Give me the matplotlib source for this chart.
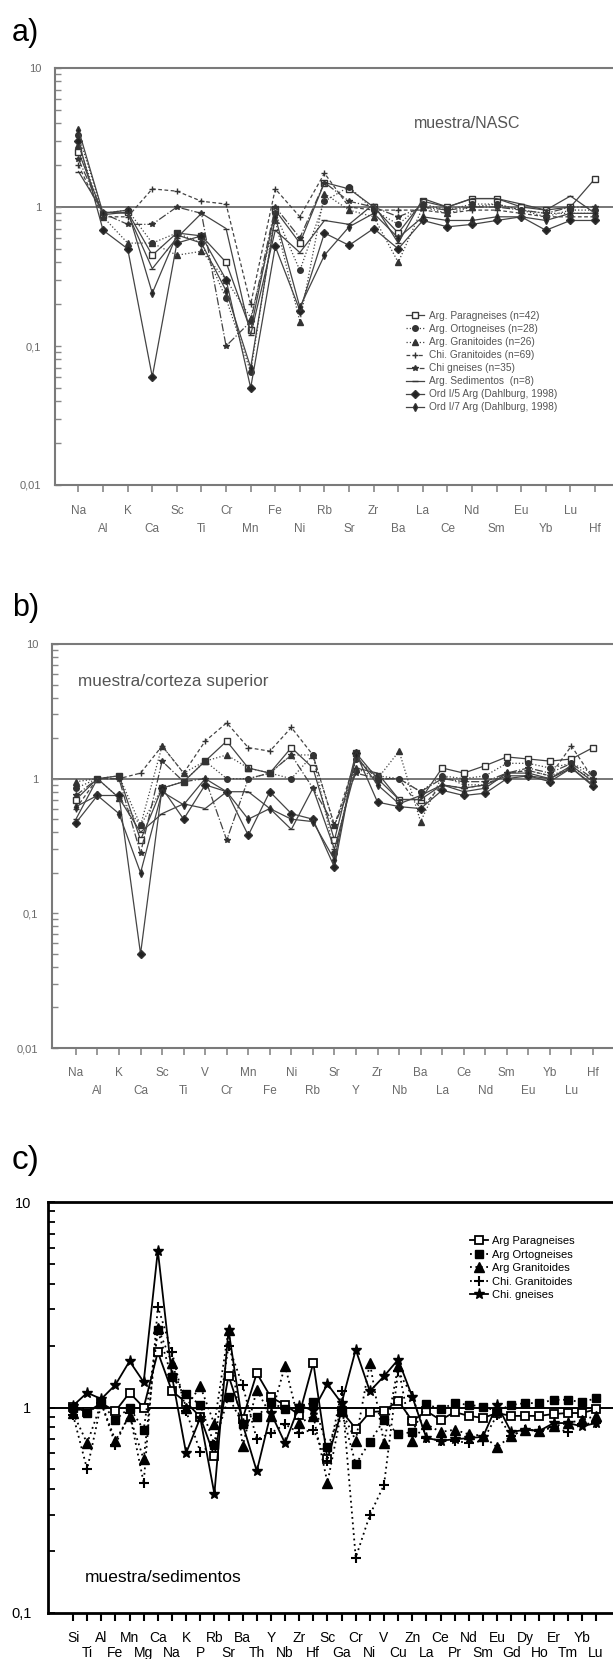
import matplotlib
matplotlib.use('Agg')
import matplotlib.pyplot as plt
from matplotlib.ticker import FixedLocator, FixedFormatter, LogLocator, NullFormatter

plt.rcParams['font.family'] = ['Liberation Sans', 'DejaVu Sans']

# ---------------- data ----------------
# panel a : muestra/NASC
elements_a = ['Na', 'Al', 'K', 'Ca', 'Sc', 'Ti', 'Cr', 'Mn', 'Fe', 'Ni', 'Rb',
              'Sr', 'Zr', 'Ba', 'La', 'Ce', 'Nd', 'Sm', 'Eu', 'Yb', 'Lu', 'Hf']
a_parag = [2.5, 0.88, 0.92, 0.45, 0.65, 0.62, 0.40, 0.13, 0.95, 0.55, 1.50, 1.35, 1.00, 0.65, 1.10, 1.00, 1.15, 1.15, 1.00, 0.95, 1.00, 1.60]
a_orto = [3.3, 0.90, 0.95, 0.55, 0.65, 0.55, 0.22, 0.065, 0.90, 0.35, 1.10, 1.40, 0.95, 0.75, 1.05, 0.95, 1.05, 1.05, 0.95, 0.85, 0.95, 0.95]
a_granit = [2.8, 0.85, 0.55, 0.55, 0.45, 0.48, 0.30, 0.16, 0.80, 0.15, 1.25, 0.95, 0.85, 0.40, 1.00, 0.90, 1.00, 1.05, 0.95, 0.90, 0.90, 0.90]
a_chigran = [2.0, 0.85, 0.85, 1.35, 1.30, 1.10, 1.05, 0.20, 1.35, 0.85, 1.75, 1.00, 0.95, 0.95, 0.95, 0.90, 0.95, 0.95, 0.90, 0.85, 0.85, 0.85]
a_chigneis = [2.2, 0.90, 0.75, 0.75, 1.00, 0.90, 0.10, 0.15, 1.00, 0.60, 1.50, 1.10, 1.00, 0.85, 1.00, 0.95, 1.00, 1.00, 0.95, 0.90, 1.00, 1.00]
a_sedim = [1.8, 0.92, 0.90, 0.36, 0.60, 0.90, 0.70, 0.12, 0.68, 0.47, 0.80, 0.75, 1.05, 0.55, 1.15, 1.00, 1.15, 1.15, 1.05, 0.95, 1.20, 0.90]
a_ord5 = [3.0, 0.68, 0.50, 0.06, 0.55, 0.62, 0.30, 0.05, 0.52, 0.18, 0.65, 0.53, 0.70, 0.50, 0.80, 0.72, 0.75, 0.80, 0.85, 0.68, 0.80, 0.80]
a_ord7 = [3.6, 0.90, 0.95, 0.24, 0.63, 0.55, 0.25, 0.07, 0.85, 0.19, 0.45, 0.72, 0.90, 0.60, 0.85, 0.80, 0.80, 0.85, 0.85, 0.80, 0.90, 0.90]

# panel b : muestra/corteza superior
elements_b = ['Na', 'Al', 'K', 'Ca', 'Sc', 'Ti', 'V', 'Cr', 'Mn', 'Fe', 'Ni', 'Rb', 'Sr',
              'Y', 'Zr', 'Nb', 'Ba', 'La', 'Ce', 'Nd', 'Sm', 'Eu', 'Yb', 'Lu', 'Hf']
b_parag = [0.70, 1.00, 1.05, 0.35, 0.85, 0.95, 1.35, 1.90, 1.20, 1.10, 1.70, 1.20, 0.35, 1.55, 1.00, 0.70, 0.70, 1.20, 1.10, 1.25, 1.45, 1.40, 1.35, 1.40, 1.70]
b_orto = [0.85, 1.00, 1.05, 0.45, 0.85, 0.95, 1.35, 1.00, 1.00, 1.10, 1.00, 1.50, 0.28, 1.40, 1.05, 1.00, 0.80, 1.05, 1.00, 1.05, 1.30, 1.30, 1.20, 1.30, 1.10]
b_granit = [0.95, 1.00, 0.72, 0.45, 1.75, 1.10, 1.35, 1.50, 1.20, 1.10, 1.50, 1.50, 0.45, 1.20, 1.00, 1.60, 0.48, 1.05, 0.90, 0.90, 1.10, 1.15, 1.05, 1.20, 1.00]
b_chigran = [0.60, 1.00, 1.00, 1.10, 1.75, 1.10, 1.90, 2.60, 1.70, 1.60, 2.40, 1.50, 0.45, 1.40, 1.00, 1.00, 0.60, 0.90, 0.85, 0.90, 1.10, 1.15, 1.05, 1.75, 1.00]
b_chigneis = [0.75, 1.00, 1.00, 0.28, 1.35, 0.95, 1.00, 0.35, 1.00, 1.10, 1.50, 0.85, 0.45, 1.10, 1.00, 1.00, 0.80, 1.00, 0.95, 0.95, 1.10, 1.20, 1.10, 1.30, 1.00]
b_sedim = [0.50, 1.00, 0.72, 0.40, 0.55, 0.65, 0.60, 0.80, 0.80, 0.60, 0.42, 0.85, 0.30, 1.20, 1.10, 0.70, 0.70, 0.90, 0.85, 0.90, 1.05, 1.05, 1.00, 1.20, 0.90]
b_ord5 = [0.47, 0.75, 0.75, 0.05, 0.85, 0.50, 0.90, 0.80, 0.38, 0.80, 0.55, 0.50, 0.22, 1.55, 0.67, 0.62, 0.60, 0.82, 0.75, 0.78, 1.00, 1.05, 0.95, 1.20, 0.88]
b_ord7 = [0.62, 0.75, 0.55, 0.20, 0.80, 0.64, 1.00, 0.80, 0.50, 0.60, 0.50, 0.48, 0.25, 1.50, 0.90, 0.65, 0.75, 0.90, 0.80, 0.85, 1.10, 1.10, 1.00, 1.25, 0.95]

labels_ab = ['Arg. Paragneises (n=42)', 'Arg. Ortogneises (n=28)', 'Arg. Granitoides (n=26)',
             'Chi. Granitoides (n=69)', 'Chi gneises (n=35)', 'Arg. Sedimentos  (n=8)',
             'Ord I/5 Arg (Dahlburg, 1998)', 'Ord I/7 Arg (Dahlburg, 1998)']

# panel c : muestra/sedimentos
elements_c = ['Si', 'Ti', 'Al', 'Fe', 'Mn', 'Mg', 'Ca', 'Na', 'K', 'P', 'Rb', 'Sr', 'Ba',
              'Th', 'Y', 'Nb', 'Zr', 'Hf', 'Sc', 'Ga', 'Cr', 'Ni', 'V', 'Cu', 'Zn', 'La',
              'Ce', 'Pr', 'Nd', 'Sm', 'Eu', 'Gd', 'Dy', 'Ho', 'Er', 'Tm', 'Yb', 'Lu']
c_parag = [1.01, 0.95, 1.05, 0.96, 1.18, 1.00, 1.86, 1.20, 1.06, 0.90, 0.58, 1.43, 0.88, 1.47, 1.12, 1.03, 0.92, 1.65, 0.56,
           0.96, 0.79, 0.95, 0.96, 1.08, 0.86, 0.96, 0.87, 0.95, 0.91, 0.89, 0.94, 0.91, 0.91, 0.91, 0.93, 0.94, 0.94, 0.98]
c_orto = [1.00, 0.94, 1.05, 0.87, 1.00, 0.78, 2.37, 1.40, 1.16, 1.03, 0.66, 1.13, 0.83, 0.90, 1.06, 0.98, 1.00, 1.06, 0.64,
          0.96, 0.53, 0.68, 0.87, 0.74, 0.76, 1.04, 0.98, 1.05, 1.03, 1.01, 0.96, 1.03, 1.05, 1.05, 1.09, 1.09, 1.06, 1.11]
c_granit = [0.94, 0.67, 1.05, 0.69, 0.91, 0.56, 2.44, 1.65, 1.00, 1.27, 0.83, 2.37, 0.65, 1.22, 0.91, 1.60, 0.84, 0.91, 0.43,
            0.96, 0.69, 1.65, 0.67, 1.59, 0.69, 0.83, 0.76, 0.78, 0.74, 0.73, 0.64, 0.73, 0.78, 0.77, 0.81, 0.84, 0.87, 0.91]
c_chigran = [0.92, 0.50, 1.05, 0.66, 0.94, 0.43, 3.10, 1.86, 0.96, 0.61, 0.66, 2.00, 1.28, 0.70, 0.75, 0.83, 0.75, 0.78, 0.55,
             1.20, 0.186, 0.30, 0.42, 1.50, 1.14, 0.71, 0.69, 0.69, 0.67, 0.69, 0.92, 0.73, 0.78, 0.77, 0.80, 0.76, 0.83, 0.84]
c_chigneis = [1.02, 1.18, 1.10, 1.29, 1.68, 1.33, 5.80, 1.42, 0.60, 0.89, 0.38, 2.39, 0.83, 0.49, 0.94, 0.67, 1.02, 0.97, 1.30,
              1.05, 1.91, 1.20, 1.42, 1.71, 1.13, 0.71, 0.69, 0.70, 0.71, 0.72, 1.03, 0.76, 0.78, 0.77, 0.84, 0.84, 0.81, 0.84]
labels_c = ['Arg Paragneises', 'Arg Ortogneises', 'Arg Granitoides', 'Chi. Granitoides', 'Chi. gneises']

# ---------------- figure ----------------
W, H = 613, 1659
fig = plt.figure(figsize=(W / 100, H / 100), dpi=100)


def ax_at(left, top, bottom, right=W):
    return fig.add_axes([left / W, 1 - bottom / H, (right - left) / W, (bottom - top) / H])


def two_row_ticks(ax, names, fontsize, color, pad_top, pad_bot, length, width, tcolor):
    # even elements on the upper row (major ticks), odd ones on the lower row (minor ticks)
    ax.xaxis.set_major_locator(FixedLocator(list(range(0, len(names), 2))))
    ax.xaxis.set_major_formatter(FixedFormatter(names[0::2]))
    ax.xaxis.set_minor_locator(FixedLocator(list(range(1, len(names), 2))))
    ax.xaxis.set_minor_formatter(FixedFormatter(names[1::2]))
    ax.tick_params(axis='x', which='both', direction='out', length=length, width=width,
                   color=tcolor, labelsize=fontsize, labelcolor=color)
    ax.tick_params(axis='x', which='major', pad=pad_top)
    ax.tick_params(axis='x', which='minor', pad=pad_bot)


grey = '#6a6a6a'
ab_styles = [
    dict(marker='s', mfc='white', ls='-'),
    dict(marker='o', mfc='#333', ls=':'),
    dict(marker='^', mfc='#333', ls=':'),
    dict(marker='+', mfc='#333', ls=(0, (3, 2))),
    dict(marker='*', mfc='#333', ls='-.'),
    dict(marker='_', mfc='#333', ls='-'),
    dict(marker='D', mfc='#222', ls='-'),
    dict(marker='d', mfc='#222', ls='-'),
]


def style_ab(ax, names, xlim, pad_top, pad_bot):
    ax.set_yscale('log')
    ax.set_ylim(0.01, 10)
    ax.set_xlim(*xlim)
    ax.axhline(1, color='#777', lw=1.4, zorder=1)
    for s in ['top', 'left', 'bottom']:
        ax.spines[s].set_color('#7a7a7a')
        ax.spines[s].set_linewidth(1.5)
    ax.spines['right'].set_visible(False)
    two_row_ticks(ax, names, 8.5, grey, pad_top, pad_bot, 5, 1.2, '#888')
    ax.set_yticks([0.01, 0.1, 1, 10])
    ax.set_yticklabels(['0,01', '0,1', '1', '10'], fontsize=8, color=grey)
    ax.yaxis.set_minor_locator(LogLocator(base=10, subs=range(2, 10)))
    ax.yaxis.set_minor_formatter(NullFormatter())
    ax.tick_params(axis='y', which='both', direction='in', length=4, width=1, color='#888', pad=10)


# ---- panel a ----
fig.text(12 / W, 1 - 33 / H, 'a)', fontsize=22, va='center', ha='left')
axa = ax_at(55, 68, 485)
xa = range(len(elements_a))
series_a = [a_parag, a_orto, a_granit, a_chigran, a_chigneis, a_sedim, a_ord5, a_ord7]
for vals, st, lab in zip(series_a, ab_styles, labels_ab):
    axa.plot(xa, vals, color='#444', lw=0.9, ms=4, mec='#333', label=lab, **st)
style_ab(axa, elements_a, (-0.955, 21.73), 9.5, 22.5)
axa.text(414 / W, 1 - 124 / H, 'muestra/NASC', transform=fig.transFigure, fontsize=11.5,
         color='#555', va='center')
axa.legend(loc='upper left', bbox_to_anchor=(406 / W, 1 - 311 / H), bbox_transform=fig.transFigure,
           frameon=False, fontsize=7.3, handlelength=1.8, handletextpad=0.5, labelspacing=0.3,
           borderpad=0, borderaxespad=0, labelcolor='#555')

# ---- panel b ----
fig.text(12 / W, 1 - 608 / H, 'b)', fontsize=22, va='center', ha='left')
axb = ax_at(52, 644, 1048)
xb = range(len(elements_b))
series_b = [b_parag, b_orto, b_granit, b_chigran, b_chigneis, b_sedim, b_ord5, b_ord7]
for vals, st in zip(series_b, ab_styles):
    axb.plot(xb, vals, color='#444', lw=0.9, ms=4, mec='#333', **st)
style_ab(axb, elements_b, (-1.11, 24.93), 9, 22)
axb.text(78 / W, 1 - 682 / H, 'muestra/corteza superior', transform=fig.transFigure,
         fontsize=12.3, color='#555', va='center')

# ---- panel c ----
fig.text(12 / W, 1 - 1160 / H, 'c)', fontsize=24, va='center', ha='left')
axc = ax_at(48, 1202, 1613)
xc = range(len(elements_c))
c_styles = [
    dict(marker='s', mfc='white', ls='-', ms=5.5, mew=1.3),
    dict(marker='s', mfc='black', ls=(0, (1, 2)), ms=6, mew=1),
    dict(marker='^', mfc='black', ls=(0, (1, 2)), ms=6.5, mew=1),
    dict(marker='+', mfc='black', ls=(0, (1, 2)), ms=7, mew=1.5),
    dict(marker='*', mfc='black', ls='-', ms=8, mew=1),
]
series_c = [c_parag, c_orto, c_granit, c_chigran, c_chigneis]
for vals, st, lab in zip(series_c, c_styles, labels_c):
    axc.plot(xc, vals, color='black', lw=1.3, mec='black', label=lab, **st)
axc.set_yscale('log')
axc.set_ylim(0.1, 10)
axc.set_xlim(-1.77, 38.2)
axc.axhline(1, color='black', lw=1.4, zorder=1)
for s in ['top', 'left', 'bottom']:
    axc.spines[s].set_linewidth(2)
axc.spines['right'].set_visible(False)
two_row_ticks(axc, elements_c, 10, 'black', 7, 17.5, 6, 1.5, 'black')
axc.set_yticks([0.1, 1, 10])
axc.set_yticklabels(['0,1', '1', '10'], fontsize=10.5)
axc.yaxis.set_minor_locator(LogLocator(base=10, subs=range(2, 10)))
axc.yaxis.set_minor_formatter(NullFormatter())
axc.tick_params(axis='y', which='both', direction='in', length=5, width=1.3, pad=12)
axc.text(85 / W, 1 - 1577 / H, 'muestra/sedimentos', transform=fig.transFigure,
         fontsize=12.5, va='center')
axc.legend(loc='upper left', bbox_to_anchor=(470 / W, 1 - 1236 / H), bbox_transform=fig.transFigure,
           frameon=False, fontsize=8, handlelength=1.6, handletextpad=0.4, labelspacing=0.32,
           borderpad=0, borderaxespad=0)

fig.savefig('out.png', dpi=100)
